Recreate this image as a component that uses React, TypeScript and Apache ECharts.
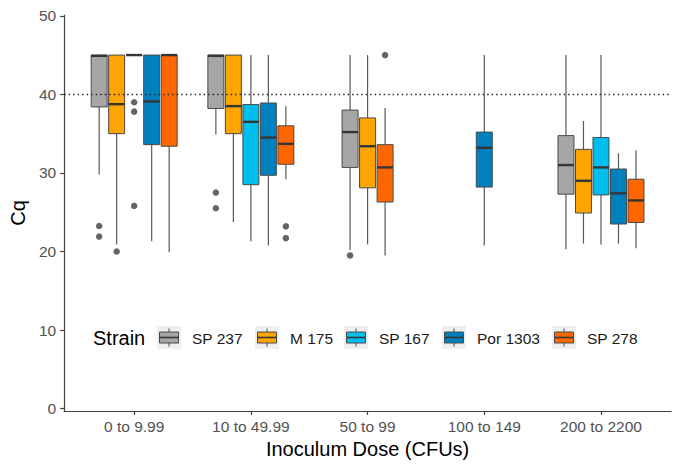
import React, { useEffect, useRef } from "react";
import * as echarts from "echarts";

const categories = ["0 to 9.99", "10 to 49.99", "50 to 99", "100 to 149", "200 to 2200"];
const strains = ["SP 237", "M 175", "SP 167", "Por 1303", "SP 278"];
const strainColors = ["#A6A6A6", "#FFA500", "#00BFEF", "#0080BF", "#FF6600"];

// [min, q1, median, q3, max] per category (null = no data)
const sp237Stats = [[29.8, 38.4, 44.9, 45, 45], [34.9, 38.2, 44.9, 45, 45], [20.2, 30.7, 35.2, 38.0, 45], null, [20.3, 27.3, 31.0, 34.75, 45]];
const m175Stats = [[20.9, 35.0, 38.75, 45, 45], [23.75, 35.0, 38.5, 45, 45], [20.9, 28.1, 33.4, 37.0, 45], null, [21.0, 24.9, 29.0, 33.0, 36.6]];
const sp167Stats = [[45, 45, 45, 45, 45], [21.3, 28.5, 36.5, 38.7, 45], null, null, [20.9, 27.2, 30.7, 34.5, 45]];
const por1303Stats = [[21.3, 33.6, 39.1, 45, 45], [20.75, 29.7, 34.5, 38.9, 45], null, [20.75, 28.2, 33.2, 35.2, 45], [21.0, 23.5, 27.4, 30.5, 32.5]];
const sp278Stats = [[19.9, 33.4, 45, 45, 45], [29.2, 31.1, 33.7, 36.0, 38.5], [19.5, 26.3, 30.7, 33.6, 38.25], null, [20.4, 23.7, 26.5, 29.2, 32.9]];

// outliers: [categoryIndex, value]
const sp237Outliers = [[0, 23.25], [0, 21.9], [1, 27.5], [1, 25.5], [2, 19.5]];
const m175Outliers = [[0, 20.0]];
const sp167Outliers = [[0, 39.0], [0, 37.8], [0, 25.8]];
const por1303Outliers: number[][] = [];
const sp278Outliers = [[1, 23.2], [1, 21.7], [2, 45.0]];

const yTicks = [0, 10, 20, 30, 40, 50];
const thresholdCq = 40;

const allStats = [sp237Stats, m175Stats, sp167Stats, por1303Stats, sp278Stats];
const allOutliers = [sp237Outliers, m175Outliers, sp167Outliers, por1303Outliers, sp278Outliers];

const SLOT = 0.15;
const BOX_W = 0.137;
const FONT = '"Liberation Sans", Arial, sans-serif';

function dodgeOffset(strainIdx: number, catIdx: number): number {
  const present = strains.map((_, s) => s).filter((s) => allStats[s][catIdx] != null);
  const pos = present.indexOf(strainIdx);
  const n = present.length;
  if (pos < 0) return 0;
  return (pos - (n - 1) / 2) * SLOT;
}

export default function App() {
  const ref = useRef<HTMLDivElement>(null);
  useEffect(() => {
    if (!ref.current) return;
    const chart = echarts.init(ref.current, null, { renderer: "svg" });

    const series: any[] = [];
    strains.forEach((name, s) => {
      const color = strainColors[s];
      const data = allStats[s]
        .map((st, c) => (st ? [c + dodgeOffset(s, c), ...st] : null))
        .filter((d) => d != null);
      series.push({
        type: "custom",
        name,
        data,
        encode: { x: 0, y: [1, 2, 3, 4, 5] },
        z: 3,
        renderItem: (params: any, api: any) => {
          const x = api.value(0);
          const vMin = api.value(1), q1 = api.value(2), med = api.value(3), q3 = api.value(4), vMax = api.value(5);
          const [cx, yMin] = api.coord([x, vMin]);
          const yQ1 = api.coord([x, q1])[1];
          const yMed = api.coord([x, med])[1];
          const yQ3 = api.coord([x, q3])[1];
          const yMax = api.coord([x, vMax])[1];
          const w = api.size([BOX_W, 0])[0];
          const whisk = { stroke: "#595959", lineWidth: 1.2 };
          return {
            type: "group",
            children: [
              { type: "line", shape: { x1: cx, y1: yQ3, x2: cx, y2: yMax }, style: whisk },
              { type: "line", shape: { x1: cx, y1: yQ1, x2: cx, y2: yMin }, style: whisk },
              {
                type: "rect",
                shape: { x: cx - w / 2, y: yQ3, width: w, height: Math.max(yQ1 - yQ3, 0.01) },
                style: { fill: color, stroke: "#4a4a4a", lineWidth: 1 },
              },
              {
                type: "line",
                shape: { x1: cx - w / 2, y1: yMed, x2: cx + w / 2, y2: yMed },
                style: { stroke: "#363636", lineWidth: 2.4 },
              },
            ],
          };
        },
      });
      const sc: any = {
        type: "scatter",
        name: name + " outliers",
        data: allOutliers[s].map(([c, v]) => [c + dodgeOffset(s, c), v]),
        symbolSize: 6.5,
        itemStyle: { color: "#3f3f3f" },
        z: 4,
      };
      if (s === 0) {
        sc.markLine = {
          silent: true,
          symbol: "none",
          label: { show: false },
          lineStyle: { type: [1.5, 3], color: "#2a2a2a", width: 1.3 },
          data: [{ yAxis: thresholdCq }],
        };
      }
      series.push(sc);
    });

    const keyX = [157, 255, 344, 442, 552];
    const legendY = 338;
    const legendEls: any[] = [
      {
        type: "text",
        x: 93,
        y: legendY,
        style: { text: "Strain", font: `20px ${FONT}`, fill: "#000", verticalAlign: "middle", align: "left" },
      },
    ];
    strains.forEach((name, i) => {
      const kx = keyX[i];
      legendEls.push(
        { type: "rect", shape: { x: kx, y: legendY - 12, width: 24, height: 23 }, style: { fill: "#EFEFEF" } },
        { type: "line", shape: { x1: kx + 12, y1: legendY - 9.5, x2: kx + 12, y2: legendY + 8.5 }, style: { stroke: "#595959", lineWidth: 1.1 } },
        { type: "rect", shape: { x: kx + 2.5, y: legendY - 6, width: 19, height: 11 }, style: { fill: strainColors[i], stroke: "#4a4a4a", lineWidth: 1 } },
        { type: "line", shape: { x1: kx + 2.5, y1: legendY - 0.5, x2: kx + 21.5, y2: legendY - 0.5 }, style: { stroke: "#363636", lineWidth: 1.6 } },
        {
          type: "text",
          x: kx + 35,
          y: legendY,
          style: { text: name, font: `15.5px ${FONT}`, fill: "#1a1a1a", verticalAlign: "middle", align: "left" },
        }
      );
    });

    chart.setOption({
      animation: false,
      backgroundColor: "#fff",
      textStyle: { fontFamily: FONT },
      grid: { left: 62, right: 7, top: 15, bottom: 45, containLabel: false },
      xAxis: {
        type: "value",
        min: -0.6,
        max: 4.6,
        name: "Inoculum Dose (CFUs)",
        nameLocation: "middle",
        nameGap: 28,
        nameTextStyle: { fontSize: 20, color: "#000", fontFamily: FONT },
        axisLine: { show: true, onZero: false, lineStyle: { color: "#444", width: 1.2 } },
        axisTick: { show: true, length: 4, customValues: categories.map((_, i) => i), lineStyle: { color: "#444", width: 1.2 } },
        axisLabel: {
          customValues: categories.map((_, i) => i),
          formatter: (v: number) => categories[Math.round(v)] ?? "",
          fontSize: 15.5,
          color: "#525252",
          margin: 7,
          fontFamily: FONT,
        },
        splitLine: { show: false },
      },
      yAxis: {
        type: "value",
        min: -0.3,
        max: 50.1,
        name: "Cq",
        nameLocation: "middle",
        nameGap: 27,
        nameRotate: 90,
        nameTextStyle: { fontSize: 20, color: "#000", fontFamily: FONT },
        axisLine: { show: true, onZero: false, lineStyle: { color: "#444", width: 1.2 } },
        axisTick: { show: true, length: 4, customValues: yTicks, lineStyle: { color: "#444", width: 1.2 } },
        axisLabel: { customValues: yTicks, fontSize: 15.5, color: "#525252", margin: 8, fontFamily: FONT },
        splitLine: { show: false },
      },
      series,
      graphic: { elements: legendEls },
    });

    return () => chart.dispose();
  }, []);

  return <div ref={ref} style={{ width: 678, height: 464, position: "absolute", left: 0, top: 0 }} />;
}
